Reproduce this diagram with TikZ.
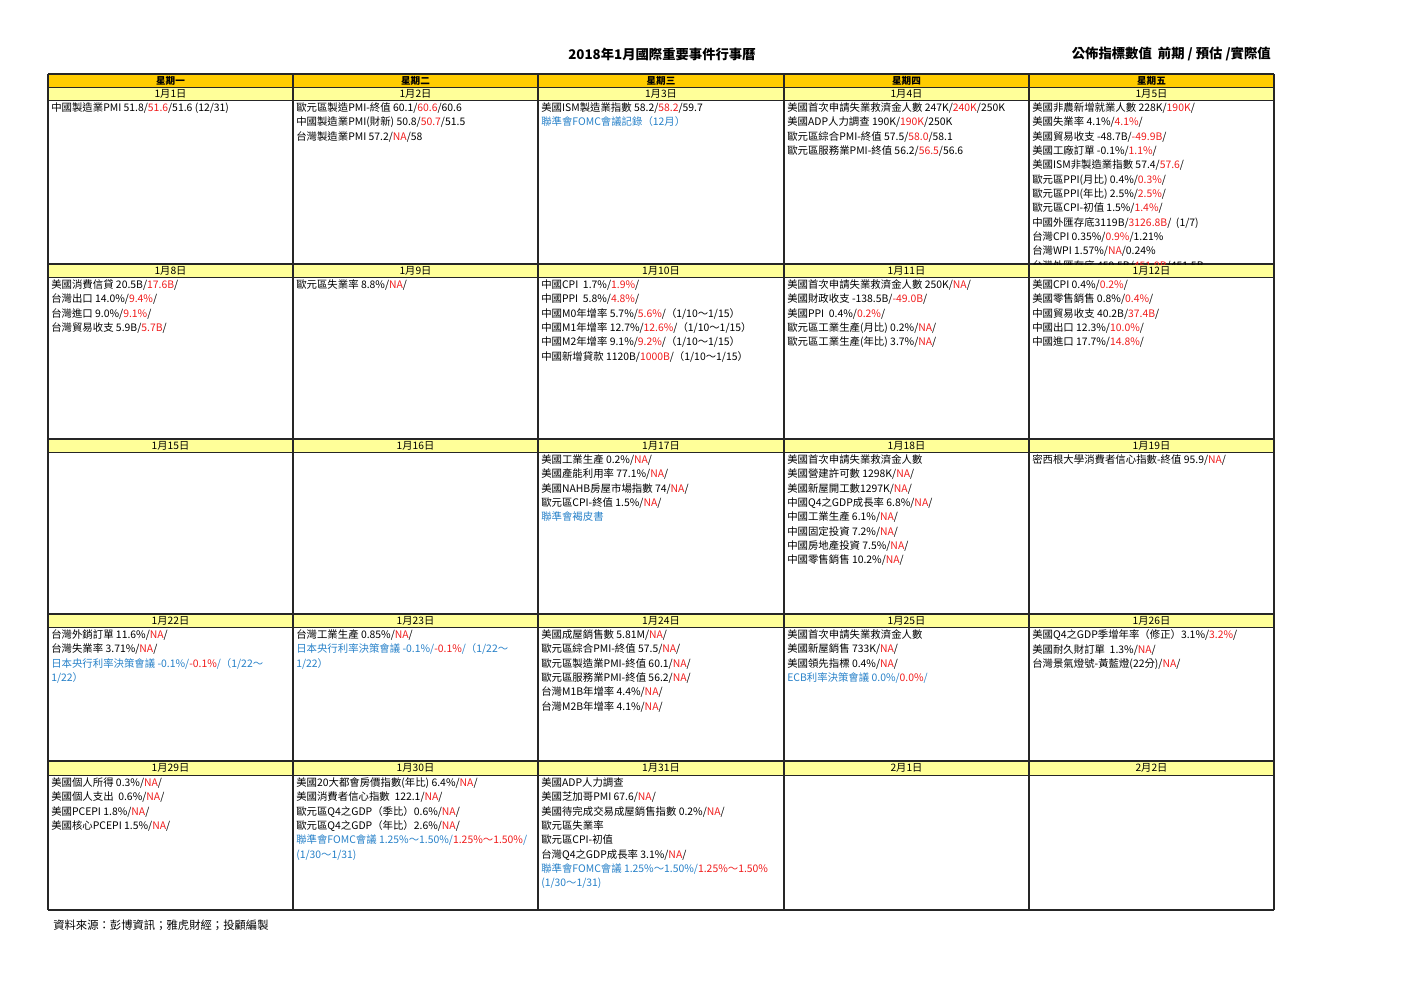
\documentclass[tikz,border=0pt]{standalone}
\usepackage{fontspec}
\setmainfont{Noto Sans CJK TC}
\usepackage{xcolor}
\definecolor{hdrorange}{RGB}{255,204,0}
\definecolor{dateyellow}{RGB}{255,255,153}
\definecolor{estred}{RGB}{240,28,28}
\definecolor{fedblue}{RGB}{38,128,200}
\newcommand{\est}[1]{\textcolor{estred}{#1}}
\newcommand{\fed}[1]{\textcolor{fedblue}{#1}}
\tikzset{
  wkday/.style={anchor=center, inner sep=0pt, font=\fontsize{7.2}{8}\selectfont\bfseries},
  datelbl/.style={anchor=center, inner sep=0pt, font=\fontsize{7.7}{8}\selectfont},
  entry/.style={anchor=north west, inner sep=0pt, align=left, font=\fontsize{7.8}{10.75}\selectfont},
  gridline/.style={line width=1.1pt, black!85},
  thinline/.style={line width=0.6pt, black!85}
}

\begin{document}
\begin{tikzpicture}[x=0.75pt,y=0.75pt,yscale=-1,xscale=1]
	\useasboundingbox (0,0) rectangle (1403,992);
	% titles
	\draw (662,54) node (title) [inner sep=0pt, font=\fontsize{10}{12}\selectfont\bfseries] {2018年1月國際重要事件行事曆};
	\draw (1271,54) node (legend) [anchor=east, inner sep=0pt, font=\fontsize{10}{12}\selectfont\bfseries] {公佈指標數值\ \ 前期 / 預估 /實際值};
	% bands
	\fill [hdrorange] (48,74) rectangle (1274,87);
	\fill [dateyellow] (48,87) rectangle (1274,100);
	\fill [dateyellow] (48,264) rectangle (1274,277);
	\fill [dateyellow] (48,439) rectangle (1274,452);
	\fill [dateyellow] (48,614) rectangle (1274,627);
	\fill [dateyellow] (48,761) rectangle (1274,775);
	% grid
	\draw [gridline] (48,74) -- (1274,74) ;
	\draw [thinline] (48,87) -- (1274,87) ;
	\draw [thinline] (48,100) -- (1274,100) ;
	\draw [gridline] (48,264) -- (1274,264) ;
	\draw [thinline] (48,277) -- (1274,277) ;
	\draw [gridline] (48,439) -- (1274,439) ;
	\draw [thinline] (48,452) -- (1274,452) ;
	\draw [gridline] (48,614) -- (1274,614) ;
	\draw [thinline] (48,627) -- (1274,627) ;
	\draw [gridline] (48,761) -- (1274,761) ;
	\draw [thinline] (48,775) -- (1274,775) ;
	\draw [gridline] (48,910) -- (1274,910) ;
	\draw [gridline] (48,74) -- (48,910) ;
	\draw [gridline] (293,74) -- (293,910) ;
	\draw [gridline] (538,74) -- (538,910) ;
	\draw [gridline] (784,74) -- (784,910) ;
	\draw [gridline] (1029,74) -- (1029,910) ;
	\draw [gridline] (1274,74) -- (1274,910) ;
	% weekdays
	\draw (170.5,80.5) node (mon) [wkday] {星期一};
	\draw (415.5,80.5) node (tue) [wkday] {星期二};
	\draw (661,80.5) node (wed) [wkday] {星期三};
	\draw (906.5,80.5) node (thu) [wkday] {星期四};
	\draw (1151.5,80.5) node (fri) [wkday] {星期五};
	% dates
	\draw (170.5,93.5) node (lbl0101) [datelbl] {1月1日};
	\draw (415.5,93.5) node (lbl0102) [datelbl] {1月2日};
	\draw (661,93.5) node (lbl0103) [datelbl] {1月3日};
	\draw (906.5,93.5) node (lbl0104) [datelbl] {1月4日};
	\draw (1151.5,93.5) node (lbl0105) [datelbl] {1月5日};
	\draw (170.5,270.5) node (lbl0108) [datelbl] {1月8日};
	\draw (415.5,270.5) node (lbl0109) [datelbl] {1月9日};
	\draw (661,270.5) node (lbl0110) [datelbl] {1月10日};
	\draw (906.5,270.5) node (lbl0111) [datelbl] {1月11日};
	\draw (1151.5,270.5) node (lbl0112) [datelbl] {1月12日};
	\draw (170.5,445.5) node (lbl0115) [datelbl] {1月15日};
	\draw (415.5,445.5) node (lbl0116) [datelbl] {1月16日};
	\draw (661,445.5) node (lbl0117) [datelbl] {1月17日};
	\draw (906.5,445.5) node (lbl0118) [datelbl] {1月18日};
	\draw (1151.5,445.5) node (lbl0119) [datelbl] {1月19日};
	\draw (170.5,620.5) node (lbl0122) [datelbl] {1月22日};
	\draw (415.5,620.5) node (lbl0123) [datelbl] {1月23日};
	\draw (661,620.5) node (lbl0124) [datelbl] {1月24日};
	\draw (906.5,620.5) node (lbl0125) [datelbl] {1月25日};
	\draw (1151.5,620.5) node (lbl0126) [datelbl] {1月26日};
	\draw (170.5,768) node (lbl0129) [datelbl] {1月29日};
	\draw (415.5,768) node (lbl0130) [datelbl] {1月30日};
	\draw (661,768) node (lbl0131) [datelbl] {1月31日};
	\draw (906.5,768) node (lbl0201) [datelbl] {2月1日};
	\draw (1151.5,768) node (lbl0202) [datelbl] {2月2日};
	% week 1
	\draw (51,102.5) node (ev0101) [entry] {中國製造業PMI 51.8/\est{51.6}/51.6 (12/31)};
	\draw (296,102.5) node (ev0102) [entry] {歐元區製造PMI-終值 60.1/\est{60.6}/60.6\\中國製造業PMI(財新) 50.8/\est{50.7}/51.5\\台灣製造業PMI 57.2/\est{NA}/58};
	\draw (541,102.5) node (ev0103) [entry] {美國ISM製造業指數 58.2/\est{58.2}/59.7\\\fed{聯準會FOMC會議記錄（12月）}};
	\draw (787,102.5) node (ev0104) [entry] {美國首次申請失業救濟金人數 247K/\est{240K}/250K\\美國ADP人力調查 190K/\est{190K}/250K\\歐元區綜合PMI-終值 57.5/\est{58.0}/58.1\\歐元區服務業PMI-終值 56.2/\est{56.5}/56.6};
	\begin{scope}
	\clip (1029,100) rectangle (1274,264);
	\draw (1032,102.5) node (ev0105) [entry] {美國非農新增就業人數 228K/\est{190K}/\\美國失業率 4.1\%/\est{4.1\%}/\\美國貿易收支 -48.7B/\est{-49.9B}/\\美國工廠訂單 -0.1\%/\est{1.1\%}/\\美國ISM非製造業指數 57.4/\est{57.6}/\\歐元區PPI(月比) 0.4\%/\est{0.3\%}/\\歐元區PPI(年比) 2.5\%/\est{2.5\%}/\\歐元區CPI-初值 1.5\%/\est{1.4\%}/\\中國外匯存底3119B/\est{3126.8B}/\ \ (1/7)\\台灣CPI 0.35\%/\est{0.9\%}/1.21\%\\台灣WPI 1.57\%/\est{NA}/0.24\%\\台灣外匯存底 459.5B/\est{451.9B}/451.5B};
	\end{scope}
	% week 2
	\draw (51,279.5) node (ev0108) [entry] {美國消費信貸 20.5B/\est{17.6B}/\\台灣出口 14.0\%/\est{9.4\%}/\\台灣進口 9.0\%/\est{9.1\%}/\\台灣貿易收支 5.9B/\est{5.7B}/};
	\draw (296,279.5) node (ev0109) [entry] {歐元區失業率 8.8\%/\est{NA}/};
	\draw (541,279.5) node (ev0110) [entry] {中國CPI\ \ 1.7\%/\est{1.9\%}/\\中國PPI\ \ 5.8\%/\est{4.8\%}/\\中國M0年增率 5.7\%/\est{5.6\%}/（1/10～1/15）\\中國M1年增率 12.7\%/\est{12.6\%}/（1/10～1/15）\\中國M2年增率 9.1\%/\est{9.2\%}/（1/10～1/15）\\中國新增貸款 1120B/\est{1000B}/（1/10～1/15）};
	\draw (787,279.5) node (ev0111) [entry] {美國首次申請失業救濟金人數 250K/\est{NA}/\\美國財政收支 -138.5B/\est{-49.0B}/\\美國PPI\ \ 0.4\%/\est{0.2\%}/\\歐元區工業生產(月比) 0.2\%/\est{NA}/\\歐元區工業生產(年比) 3.7\%/\est{NA}/};
	\draw (1032,279.5) node (ev0112) [entry] {美國CPI 0.4\%/\est{0.2\%}/\\美國零售銷售 0.8\%/\est{0.4\%}/\\中國貿易收支 40.2B/\est{37.4B}/\\中國出口 12.3\%/\est{10.0\%}/\\中國進口 17.7\%/\est{14.8\%}/};
	% week 3
	\draw (541,454.5) node (ev0117) [entry] {美國工業生產 0.2\%/\est{NA}/\\美國產能利用率 77.1\%/\est{NA}/\\美國NAHB房屋市場指數 74/\est{NA}/\\歐元區CPI-終值 1.5\%/\est{NA}/\\\fed{聯準會褐皮書}};
	\draw (787,454.5) node (ev0118) [entry] {美國首次申請失業救濟金人數\\美國營建許可數 1298K/\est{NA}/\\美國新屋開工數1297K/\est{NA}/\\中國Q4之GDP成長率 6.8\%/\est{NA}/\\中國工業生產 6.1\%/\est{NA}/\\中國固定投資 7.2\%/\est{NA}/\\中國房地產投資 7.5\%/\est{NA}/\\中國零售銷售 10.2\%/\est{NA}/};
	\draw (1032,454.5) node (ev0119) [entry] {密西根大學消費者信心指數-終值 95.9/\est{NA}/};
	% week 4
	\draw (51,629.5) node (ev0122) [entry] {台灣外銷訂單 11.6\%/\est{NA}/\\台灣失業率 3.71\%/\est{NA}/\\\fed{日本央行利率決策會議 -0.1\%/}\est{-0.1\%}\fed{/（1/22～}\\\fed{1/22）}};
	\draw (296,629.5) node (ev0123) [entry] {台灣工業生產 0.85\%/\est{NA}/\\\fed{日本央行利率決策會議 -0.1\%/}\est{-0.1\%}\fed{/（1/22～}\\\fed{1/22）}};
	\draw (541,629.5) node (ev0124) [entry] {美國成屋銷售數 5.81M/\est{NA}/\\歐元區綜合PMI-終值 57.5/\est{NA}/\\歐元區製造業PMI-終值 60.1/\est{NA}/\\歐元區服務業PMI-終值 56.2/\est{NA}/\\台灣M1B年增率 4.4\%/\est{NA}/\\台灣M2B年增率 4.1\%/\est{NA}/};
	\draw (787,629.5) node (ev0125) [entry] {美國首次申請失業救濟金人數\\美國新屋銷售 733K/\est{NA}/\\美國領先指標 0.4\%/\est{NA}/\\\fed{ECB利率決策會議 0.0\%/}\est{0.0\%}\fed{/}};
	\draw (1032,629.5) node (ev0126) [entry] {美國Q4之GDP季增年率（修正）3.1\%/\est{3.2\%}/\\美國耐久財訂單\ \ 1.3\%/\est{NA}/\\台灣景氣燈號-黃藍燈(22分)/\est{NA}/};
	% week 5
	\draw (51,777.5) node (ev0129) [entry] {美國個人所得 0.3\%/\est{NA}/\\美國個人支出\ \ 0.6\%/\est{NA}/\\美國PCEPI 1.8\%/\est{NA}/\\美國核心PCEPI 1.5\%/\est{NA}/};
	\draw (296,777.5) node (ev0130) [entry] {美國20大都會房價指數(年比) 6.4\%/\est{NA}/\\美國消費者信心指數\ \ 122.1/\est{NA}/\\歐元區Q4之GDP（季比）0.6\%/\est{NA}/\\歐元區Q4之GDP（年比）2.6\%/\est{NA}/\\\fed{聯準會FOMC會議 1.25\%～1.50\%/}\est{1.25\%～1.50\%}\fed{/}\\\fed{(1/30～1/31)}};
	\draw (541,777.5) node (ev0131) [entry] {美國ADP人力調查\\美國芝加哥PMI 67.6/\est{NA}/\\美國待完成交易成屋銷售指數 0.2\%/\est{NA}/\\歐元區失業率\\歐元區CPI-初值\\台灣Q4之GDP成長率 3.1\%/\est{NA}/\\\fed{聯準會FOMC會議 1.25\%～1.50\%/}\est{1.25\%～1.50\%}\\\fed{(1/30～1/31)}};
	% source
	\draw (53,925) node (source) [anchor=west, inner sep=0pt, font=\fontsize{8.5}{10}\selectfont] {資料來源：彭博資訊；雅虎財經；投顧編製};
\end{tikzpicture}
\end{document}
